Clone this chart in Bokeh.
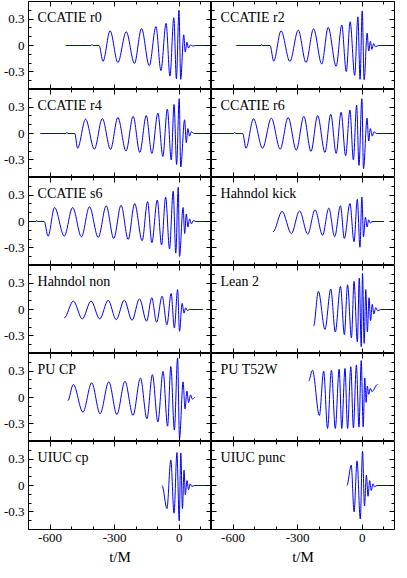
from bokeh.plotting import figure
from bokeh.layouts import gridplot
from bokeh.models import ColumnDataSource, Label, LinearAxis, FixedTicker, Range1d
from bokeh.embed import file_html
from bokeh.resources import INLINE

# ---------------- data (extrema of each waveform) ----------------
names = ["CCATIE r0", "CCATIE r2", "CCATIE r4", "CCATIE r6", "CCATIE s6", "Hahndol kick",
         "Hahndol non", "Lean 2", "PU CP", "PU T52W", "UIUC cp", "UIUC punc"]

x_ticks = [-600, -300, 0]
x_tick_labels = ["-600", "-300", "0"]
x_minor = [-700, -500, -400, -200, -100, 100]
y_ticks = [-0.3, 0, 0.3]
y_tick_labels = ["-0.3", "0", "0.3"]
y_minor = [-0.5, -0.4, -0.2, -0.1, 0.1, 0.2, 0.4, 0.5]

r0_t = [-527, -410, -405, -400, -372, -354, -321, -285, -246, -208, -175, -139, -108, -85,
        -61, -43, -25, -13, -1, 7, 21, 28, 36, 43, 52, 63, 75, 150]
r0_h = [0, 0, 0.012, 0, 0, -0.18, 0.167, -0.193, 0.156, -0.204, 0.193, -0.23, 0.215, -0.285,
        0.252, -0.348, 0.315, -0.378, 0.40, -0.385, 0.122, -0.074, 0.037, -0.03, 0.007, -0.007, 0, 0]

r2_t = [-585, -470, -467, -464, -428, -411, -377, -336, -297, -261, -226, -188, -158, -121,
        -95, -74, -56, -35, -20, -10, 0, 9, 23, 30, 38, 45, 53, 62, 75, 150]
r2_h = [0, 0, 0.012, 0, 0, -0.178, 0.167, -0.181, 0.174, -0.193, 0.189, -0.211, 0.207, -0.237,
        0.233, -0.296, 0.27, -0.34, 0.326, -0.385, 0.393, -0.389, 0.14, -0.063, 0.048, -0.044,
        0.022, -0.015, 0, 0]

r4_t = [-645, -526, -522, -518, -485, -472, -435, -394, -357, -319, -285, -247, -214, -183,
        -153, -127, -99, -76, -55, -37, -24, -12, 0, 7, 25, 33, 40, 48, 55, 70, 150]
r4_h = [0, 0, 0.012, 0, 0, -0.167, 0.163, -0.178, 0.170, -0.181, 0.181, -0.2, 0.196, -0.215,
        0.204, -0.226, 0.233, -0.26, 0.278, -0.3, 0.33, -0.352, 0.396, -0.381, 0.156, -0.104,
        0.056, -0.03, 0.019, 0, 0]

r6_t = [-750, -596, -592, -588, -555, -540, -505, -463, -422, -381, -344, -306, -271, -238,
        -207, -173, -146, -121, -98, -77, -57, -41, -26, -15, -1.5, 6, 22.6, 30, 37.7, 47, 54,
        68, 150]
r6_h = [0, 0, 0.012, 0, 0, -0.167, 0.167, -0.167, 0.174, -0.178, 0.181, -0.189, 0.196, -0.204,
        0.204, -0.215, 0.219, -0.226, 0.241, -0.252, 0.267, -0.3, 0.322, -0.363, 0.396, -0.4,
        0.174, -0.085, 0.056, -0.03, 0.019, 0, 0]

s6_t = [-680, -665, -662, -659, -627, -609, -579, -534, -495, -454, -417, -376, -339, -304,
        -270, -237, -207, -172, -147, -127, -102, -82, -63, -45, -28, -16, -4.5, 1.5, 18, 25.5,
        33, 40.5, 48, 57, 66, 78, 150]
s6_h = [0, 0, 0.012, 0, 0, -0.167, 0.159, -0.167, 0.159, -0.174, 0.167, -0.181, 0.178, -0.193,
        0.185, -0.204, 0.204, -0.219, 0.226, -0.241, 0.244, -0.267, 0.278, -0.311, 0.344,
        -0.359, 0.389, -0.396, 0.159, -0.137, 0.085, -0.063, 0.03, -0.026, 0.011, 0, 0]

hk_t = [-414.5, -372, -329, -291, -253, -219, -184, -155, -128, -101, -83, -57, -38, -22.6,
        -10.5, -1.5, 6, 15, 22.6, 30, 37.7, 45, 101]
hk_h = [-0.119, 0.115, -0.137, 0.122, -0.144, 0.133, -0.156, 0.152, -0.174, 0.178, -0.193,
        0.204, -0.23, 0.252, -0.293, 0.278, -0.174, 0.048, -0.063, 0.019, -0.019, 0, 0]

hn_t = [-534, -492, -450, -409.5, -369, -330, -292.5, -255, -219, -184.5, -151.5, -127.5,
        -105, -79.5, -57, -37.5, -22.5, -7.5, 1.5, 13.5, 22.5, 30, 37.5, 48, 110]
hn_h = [-0.096, 0.096, -0.107, 0.096, -0.107, 0.104, -0.115, 0.107, -0.122, 0.122, -0.133,
        0.133, -0.144, 0.152, -0.174, 0.181, -0.211, 0.226, -0.248, 0.07, -0.041, 0.019,
        -0.011, 0, 0]

ln_t = [-226, -203.5, -173, -146, -125, -101, -83, -68, -50, -38, -22.6, -13.6, -4.5, 1.5, 9,
        16.6, 24, 31.7, 39, 46.7, 54, 63, 72, 86, 150]
ln_h = [-0.189, 0.207, -0.226, 0.233, -0.256, 0.263, -0.285, 0.281, -0.322, 0.319, -0.367,
        0.356, -0.422, 0.41, -0.385, 0.226, -0.256, 0.133, -0.126, 0.059, -0.052, 0.022,
        -0.015, 0, 0]

pc_t = [-517.5, -492, -447, -406.5, -367.5, -327, -289.5, -252, -214.5, -180, -150, -124.5,
        -99, -75, -54, -39, -22.5, -7.5, 1.5, 18, 27, 36, 43.5, 52.5, 61.5, 72]
pc_h = [-0.037, 0.148, -0.167, 0.167, -0.185, 0.178, -0.193, 0.185, -0.204, 0.222, -0.241,
        0.259, -0.278, 0.296, -0.326, 0.352, -0.37, 0.45, -0.463, 0.178, -0.13, 0.074, -0.056,
        0.03, -0.019, 0]

pt_t = [-249, -231, -199, -179, -161, -143, -125, -107, -95, -80, -68, -53, -41, -27, -15,
        -4.5, 4.5, 12, 18, 24, 30, 37.7, 45, 71]
pt_h = [0.185, 0.31, -0.204, 0.30, -0.352, 0.31, -0.352, 0.32, -0.352, 0.33, -0.352, 0.35,
        -0.344, 0.37, -0.337, 0.42, -0.333, 0.222, -0.056, 0.13, 0.037, 0.104, 0.067, 0.148]

uc_t = [-79.5, -57, -39, -24, -10.5, 0, 7.5, 15, 22.5, 28.5, 36, 43.5, 51, 58.5, 70.5, 150]
uc_h = [0, -0.263, 0.29, -0.315, 0.375, -0.4, 0.37, -0.263, 0.174, -0.104, 0.056, -0.048,
        0.019, -0.011, 0, 0]

up_t = [-71, -51, -37.7, -24, -9, 1.5, 10.5, 19.6, 27, 34.7, 42, 50, 57, 68, 150]
up_h = [0, 0.23, -0.3, 0.28, -0.38, 0.39, -0.233, 0.118, -0.122, 0.056, -0.056, 0.019,
        -0.015, 0, 0]

series = [(r0_t, r0_h), (r2_t, r2_h), (r4_t, r4_h), (r6_t, r6_h), (s6_t, s6_h), (hk_t, hk_h),
          (hn_t, hn_h), (ln_t, ln_h), (pc_t, pc_h), (pt_t, pt_h), (uc_t, uc_h), (up_t, up_h)]

# ---------------- layout / style ----------------
X_RANGE = (-700, 150)
Y_RANGE = (-0.5, 0.5)
FW, FH = 183, 88
LEFT_B, RIGHT_B, TOP_B, BOTTOM_B = 24, 1, 1, 33
FONT = "Liberation Serif"
BLUE = "#0000ff"


def style_axis(ax, ticks, minor, labels, show):
    ax.ticker = FixedTicker(ticks=ticks, minor_ticks=minor)
    ax.axis_line_color = None
    ax.major_tick_in = 5
    ax.major_tick_out = 0
    ax.minor_tick_in = 3
    ax.minor_tick_out = 0
    ax.major_tick_line_color = "black"
    ax.minor_tick_line_color = "black"
    ax.major_label_text_font = FONT
    ax.major_label_text_font_size = "13px"
    if show:
        ax.major_label_overrides = {t: l for t, l in zip(ticks, labels)}
        ax.major_label_text_color = "black"
        ax.major_label_standoff = 4
    else:
        # mirror axis: ticks only, labels not drawn and take no space
        ax.major_label_text_color = None
        ax.major_label_standoff = 0


def bezier_source(t, h, k=1.0 / 3.0):
    x0, x1, y0, y1 = t[:-1], t[1:], h[:-1], h[1:]
    cx0 = [a + k * (b - a) for a, b in zip(x0, x1)]
    cx1 = [b - k * (b - a) for a, b in zip(x0, x1)]
    return ColumnDataSource(dict(x0=x0, y0=y0, x1=x1, y1=y1,
                                 cx0=cx0, cy0=y0, cx1=cx1, cy1=y1))


rows = []
for r in range(6):
    row = []
    for c in range(2):
        i = 2 * r + c
        t, h = series[i]
        p = figure(frame_width=FW, frame_height=FH,
                   x_range=Range1d(*X_RANGE), y_range=Range1d(*Y_RANGE),
                   x_axis_type=None, y_axis_type=None,
                   output_backend="svg", toolbar_location=None)
        p.min_border_left = LEFT_B if c == 0 else 0
        p.min_border_right = RIGHT_B if c == 1 else 0
        p.min_border_top = TOP_B if r == 0 else 0
        p.min_border_bottom = BOTTOM_B if r == 5 else 0
        p.outline_line_color = "black"
        p.outline_line_width = 1
        p.background_fill_color = "white"
        p.border_fill_color = "white"

        below = LinearAxis()
        style_axis(below, x_ticks, x_minor, x_tick_labels, r == 5)
        if r == 5:
            below.axis_label = "t/M"
            below.axis_label_text_font = FONT
            below.axis_label_text_font_size = "15px"
            below.axis_label_text_font_style = "normal"
            below.axis_label_text_color = "black"
            below.axis_label_standoff = 4
        above = LinearAxis()
        style_axis(above, x_ticks, x_minor, x_tick_labels, False)
        left = LinearAxis()
        style_axis(left, y_ticks, y_minor, y_tick_labels, c == 0)
        right = LinearAxis()
        style_axis(right, y_ticks, y_minor, y_tick_labels, False)
        p.add_layout(below, "below")
        p.add_layout(above, "above")
        p.add_layout(left, "left")
        p.add_layout(right, "right")

        p.bezier(x0="x0", y0="y0", x1="x1", y1="y1", cx0="cx0", cy0="cy0",
                 cx1="cx1", cy1="cy1", source=bezier_source(t, h),
                 line_color=BLUE, line_width=1)

        p.add_layout(Label(x=-658, y=0.322, text=names[i], text_font=FONT,
                           text_font_size="14px", text_color="black",
                           text_baseline="alphabetic", text_align="left"))
        row.append(p)
    rows.append(row)

grid = gridplot(rows, toolbar_location=None)

open("out.html", "w").write(file_html(grid, INLINE))
